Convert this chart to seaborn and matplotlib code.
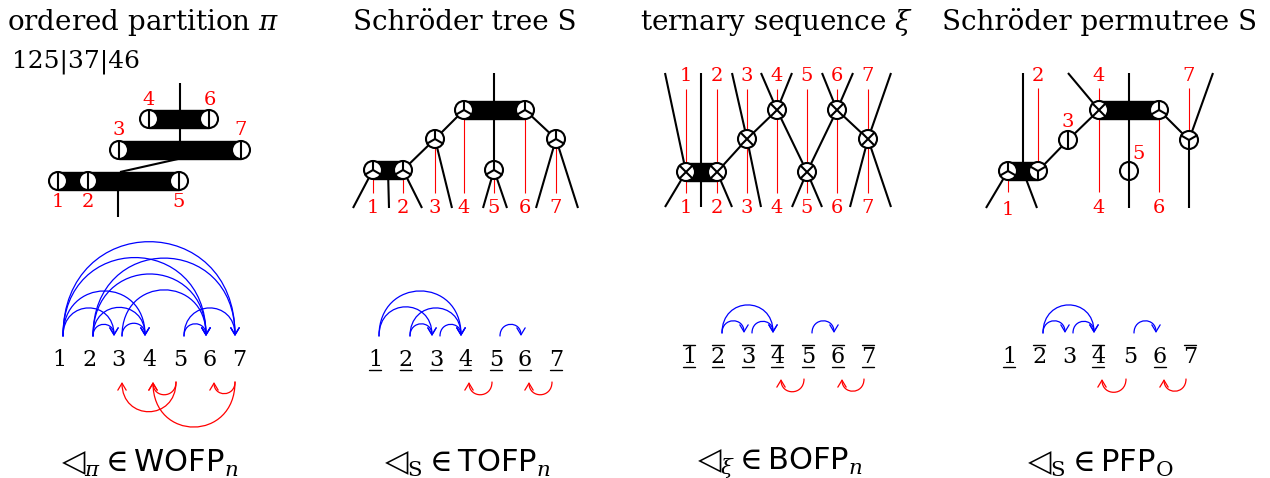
import numpy as np
import matplotlib
matplotlib.use("Agg")
import matplotlib.pyplot as plt
import seaborn as sns
from matplotlib.patches import Circle, Rectangle, FancyArrowPatch
from matplotlib.path import Path

# ---- data ---------------------------------------------------------------
titles = ["ordered partition $\\pi$", "Schröder tree S", "ternary sequence $\\xi$", "Schröder permutree S"]
title_x = [143, 465, 776, 1100]
partition_text = "125|37|46"
bottom_labels = [r"$\triangleleft_{\pi} \in \mathsf{WOFP}_{n}$", r"$\triangleleft_{\mathrm{S}} \in \mathsf{TOFP}_{n}$",
                 r"$\triangleleft_{\xi} \in \mathsf{BOFP}_{n}$", r"$\triangleleft_{\mathrm{S}} \in \mathsf{PFP}_{\mathrm{O}}$"]
bottom_x = [150, 467, 780, 1100]

# panel 1 : ordered partition
p1_bars = [([149, 209], 119), ([119, 241], 150), ([58, 88, 179], 181)]
p1_edges = [((180, 83), (180, 150)), ((178, 159), (120, 172)), ((118, 181), (118, 217))]
p1_labels = [("4", 149, 100), ("6", 210, 100), ("3", 119, 130), ("7", 241, 130),
             ("1", 58, 202), ("2", 88, 202), ("5", 179, 202)]

# panel 2 : Schroeder tree
p2_nodes = [(373, 170), (403, 170), (435, 139), (464, 110), (494, 170), (525, 110), (556, 139)]
p2_bars = [([373, 403], 170), ([464, 525], 110)]
p2_edges = [((494, 73), (494, 110)), ((464, 110), (435, 139)), ((435, 139), (403, 170)),
            ((494, 110), (494, 170)), ((525, 110), (556, 139)),
            ((373, 170), (353, 208)), ((388, 170), (389, 208)), ((403, 170), (422, 208)),
            ((435, 139), (452, 208)), ((494, 170), (483, 208)), ((494, 170), (507, 208)),
            ((556, 139), (536, 208)), ((556, 139), (578, 208))]

# panel 3 : ternary sequence
p3_x = [686, 717, 747, 777, 807, 837, 868]
p3_nodes = [(686, 172), (717, 172), (747, 139), (777, 110), (807, 172), (837, 110), (868, 139)]
p3_bars = [([686, 717], 172)]
p3_edges = [((665, 73), (686, 172)), ((686, 172), (665, 207)), ((701, 73), (701, 207)),
            ((717, 172), (732, 207)), ((717, 172), (747, 139)), ((732, 73), (747, 139)),
            ((747, 139), (761, 207)), ((747, 139), (777, 110)), ((761, 73), (777, 110)),
            ((792, 73), (777, 110)), ((777, 110), (807, 172)), ((807, 172), (792, 207)),
            ((807, 172), (822, 207)), ((807, 172), (837, 110)), ((822, 73), (837, 110)),
            ((853, 73), (837, 110)), ((837, 110), (868, 139)), ((891, 73), (868, 139)),
            ((868, 139), (850, 207)), ((868, 139), (891, 207))]

# panel 4 : Schroeder permutree
p4_nodes = [(1008, 171, "down"), (1038, 171, "up"), (1068, 140, "v"), (1099, 110, "x"),
            (1159, 110, "down"), (1129, 171, "v"), (1189, 140, "up")]
p4_bars = [([1008, 1038], 171), ([1099, 1159], 110)]
p4_edges = [((1023, 73), (1023, 171)), ((1008, 171), (986, 208)), ((1023, 171), (1037, 208)),
            ((1038, 171), (1068, 140)), ((1068, 140), (1099, 110)), ((1068, 73), (1099, 110)),
            ((1129, 73), (1129, 208)), ((1159, 110), (1189, 140)), ((1189, 140), (1213, 73)),
            ((1189, 140), (1189, 208))]
p4_red = [((1038, 88), (1038, 171)), ((1008, 171), (1008, 192)), ((1099, 88), (1099, 192)),
          ((1159, 110), (1159, 192)), ((1189, 88), (1189, 140))]
p4_labels = [("2", 1038, 76), ("4", 1099, 76), ("7", 1189, 76), ("3", 1068, 122), ("5", 1139, 154),
             ("1", 1008, 210), ("4", 1099, 208), ("6", 1159, 208)]

# arc diagrams
row_x = [[59, 89, 118, 149, 180, 210, 239],
         [375, 406, 436, 465, 496, 525, 556],
         [689, 718, 748, 777, 808, 838, 868],
         [1009, 1039, 1069, 1098, 1130, 1160, 1190]]
row_y = [360, 360, 357, 357]
blue_arcs = [[(1, 3), (1, 4), (1, 6), (1, 7), (2, 3), (2, 4), (2, 6), (2, 7), (3, 4), (3, 6), (5, 6), (5, 7)],
             [(1, 3), (1, 4), (2, 3), (2, 4), (3, 4), (5, 6)],
             [(2, 3), (2, 4), (3, 4), (5, 6)],
             [(2, 3), (2, 4), (3, 4), (5, 6)]]
red_arcs = [[(5, 3), (5, 4), (7, 4), (7, 6)],
            [(5, 4), (7, 6)],
            [(5, 4), (7, 6)],
            [(5, 4), (7, 6)]]
# decorations: o = overline, u = underline
decor = [["", "", "", "", "", "", ""],
         ["u", "u", "u", "u", "u", "u", "u"],
         ["ou", "ou", "ou", "ou", "ou", "ou", "ou"],
         ["u", "o", "", "ou", "", "u", "o"]]

# ---- drawing ------------------------------------------------------------
sns.set_theme(style="white")
plt.rcParams['font.family'] = ['DejaVu Serif']
plt.rcParams['text.color'] = 'black'
plt.rcParams['mathtext.fontset'] = 'custom'
plt.rcParams['mathtext.rm'] = 'DejaVu Serif'
plt.rcParams['mathtext.it'] = 'DejaVu Serif:italic'
plt.rcParams['mathtext.sf'] = 'DejaVu Sans'

R = 9
BLK = 1.5
fig = plt.figure(figsize=(12.7, 4.78), dpi=100)
ax = fig.add_axes([0, 0, 1, 1])
ax.set_xlim(0, 1270)
ax.set_ylim(478, 0)
ax.axis("off")


def seg(a, b, color="black", lw=BLK, z=2):
    ax.plot([a[0], b[0]], [a[1], b[1]], color=color, lw=lw, zorder=z, solid_capstyle="butt")


def bar(xs, y):
    ax.add_patch(Rectangle((min(xs), y - R), max(xs) - min(xs), 2 * R, color="black", zorder=3))


def node(x, y, kind):
    ax.add_patch(Circle((x, y), R, facecolor="white", edgecolor="black", lw=BLK, zorder=4))
    angles = {"v": [90, 270], "x": [45, 135, 225, 315], "down": [90, 210, 330], "up": [270, 30, 150]}[kind]
    for a in angles:
        t = np.radians(a)
        ax.plot([x, x + R * np.cos(t)], [y, y - R * np.sin(t)], color="black", lw=BLK, zorder=5)


def red_label(s, x, y):
    ax.text(x, y, s, color="red", fontsize=14, ha="center", va="center", zorder=6)


def arc(x0, x1, y, up, color):
    d = abs(x1 - x0)
    k = 0.73 * d * (-1 if up else 1)
    path = Path([(x0, y), (x0, y + k), (x1, y + k), (x1, y)],
                [Path.MOVETO, Path.CURVE4, Path.CURVE4, Path.CURVE4])
    ax.add_patch(FancyArrowPatch(path=path, arrowstyle="->,head_length=0.5,head_width=0.3",
                                 mutation_scale=10, color=color, lw=0.9, zorder=3))


# titles
for t, x in zip(titles, title_x):
    ax.text(x, 22, t, fontsize=20, ha="center", va="center")
ax.text(12, 62, partition_text, fontsize=18, ha="left", va="center")
for t, x in zip(bottom_labels, bottom_x):
    ax.text(x, 463, t, fontsize=22, ha="center", va="center")

# panel 1
for a, b in p1_edges:
    seg(a, b)
for xs, y in p1_bars:
    bar(xs, y)
    for x in xs:
        node(x, y, "v")
for s, x, y in p1_labels:
    red_label(s, x, y)

# panel 2
for a, b in p2_edges:
    seg(a, b)
for xs, y in p2_bars:
    bar(xs, y)
for i, (x, y) in enumerate(p2_nodes):
    seg((x, y), (x, 193), color="red", lw=0.8, z=1)
    node(x, y, "down")
    red_label(str(i + 1), x, 208)

# panel 3
for i, x in enumerate(p3_x):
    seg((x, 89), (x, 193), color="red", lw=0.8, z=1)
    red_label(str(i + 1), x, 76)
    red_label(str(i + 1), x, 208)
for a, b in p3_edges:
    seg(a, b)
for xs, y in p3_bars:
    bar(xs, y)
for x, y in p3_nodes:
    node(x, y, "x")

# panel 4
for a, b in p4_red:
    seg(a, b, color="red", lw=0.8, z=1)
for a, b in p4_edges:
    seg(a, b)
for xs, y in p4_bars:
    bar(xs, y)
for x, y, kind in p4_nodes:
    node(x, y, kind)
for s, x, y in p4_labels:
    red_label(s, x, y)

# arc rows
for xs, y, blues, reds, dec in zip(row_x, row_y, blue_arcs, red_arcs, decor):
    for i, x in enumerate(xs):
        ax.text(x, y, str(i + 1), fontsize=16, ha="center", va="center")
        if "o" in dec[i]:
            ax.plot([x - 6, x + 6], [y - 12, y - 12], color="black", lw=1.0)
        if "u" in dec[i]:
            ax.plot([x - 6, x + 6], [y + 10, y + 10], color="black", lw=1.0)
    for s, t in blues:
        arc(xs[s - 1] + 4, xs[t - 1] - 4, y - 24, True, "blue")
    for s, t in reds:
        arc(xs[s - 1] - 4, xs[t - 1] + 4, y + 22, False, "red")

fig.savefig("out.png", dpi=100)
